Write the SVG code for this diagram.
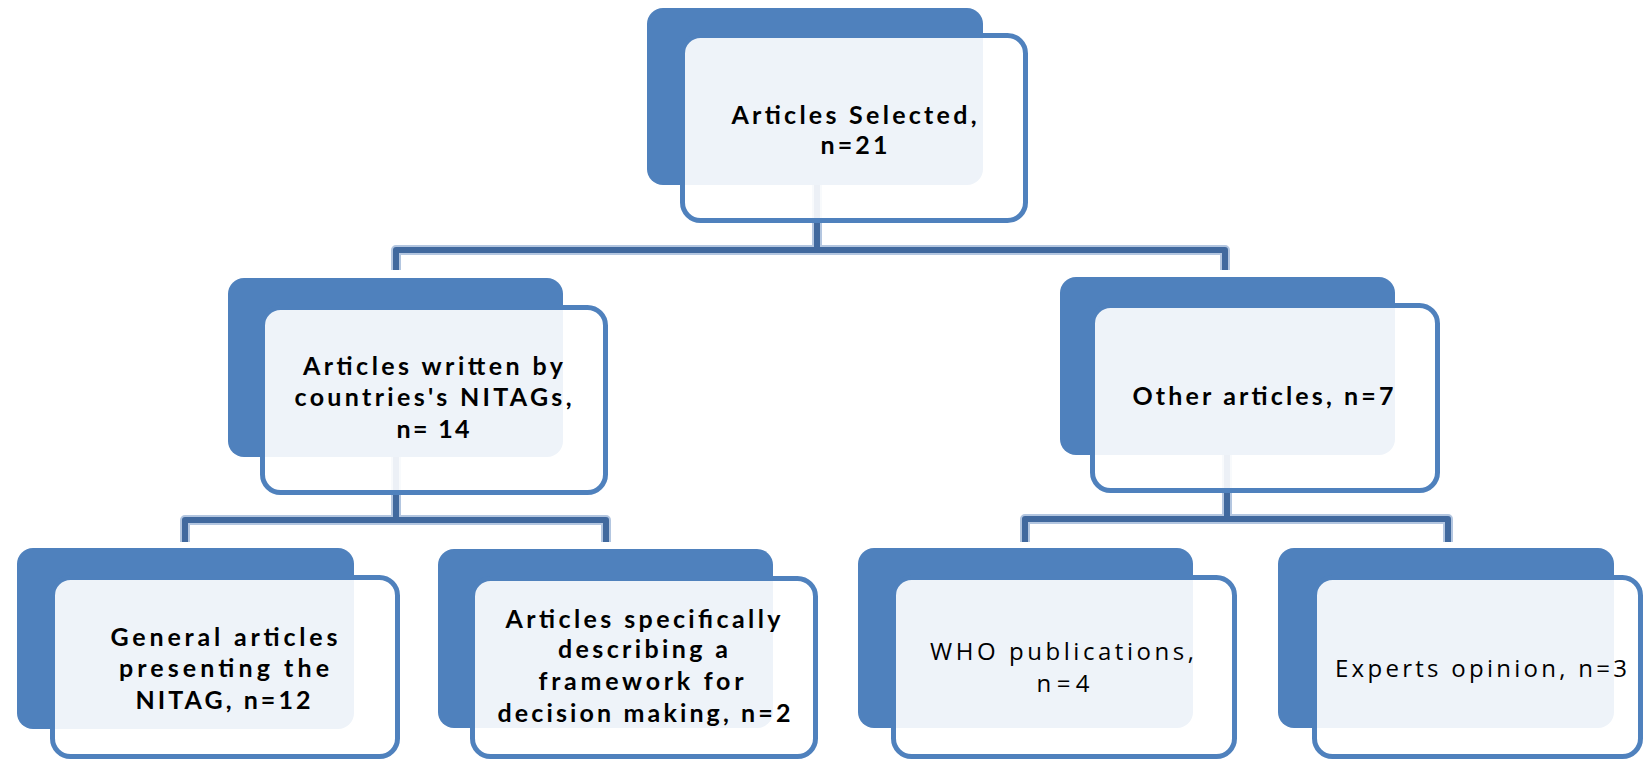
<svg xmlns="http://www.w3.org/2000/svg" width="1644" height="763" viewBox="0 0 1644 763">
<defs>
<style>
.back{fill:#4F81BD;}
.front{fill:#FFFFFF;fill-opacity:0.9;stroke:#4F81BD;stroke-width:5;}
.halo{fill:none;stroke:#B3C6E0;stroke-width:10;stroke-linejoin:round;}
.core{fill:none;stroke:#41699E;stroke-width:6;stroke-linejoin:round;}
.t{font-family:Lato,"Open Sans","Liberation Sans",sans-serif;font-size:25px;fill:#000000;text-anchor:middle;}
.b{font-weight:bold;}
.r{font-family:"Open Sans",Lato,"Liberation Sans",sans-serif;font-size:24px;}
</style>
</defs>
<rect width="1644" height="763" fill="#FFFFFF"/>
<g id="connectors">
<path class="halo" d="M817 185 V250 M396 270 V250 H1225 V270"/>
<path class="halo" d="M396 457 V520 M185 542 V520 H606 V542"/>
<path class="halo" d="M1227 455 V519 M1025 542 V519 H1448 V542"/>
<path class="core" d="M817 185 V250 M396 270 V250 H1225 V270"/>
<path class="core" d="M396 457 V520 M185 542 V520 H606 V542"/>
<path class="core" d="M1227 455 V519 M1025 542 V519 H1448 V542"/>
</g>
<g id="node-selected">
<rect class="back" x="647" y="8" width="336" height="177" rx="16"/>
<rect class="front" x="682.5" y="35.5" width="343" height="185" rx="18"/>
<text class="t b" x="854" y="124" textLength="245" lengthAdjust="spacing">Articles Selected,</text>
<text class="t b" x="854" y="154" textLength="67" lengthAdjust="spacing">n=21</text>
</g>
<g id="node-nitags">
<rect class="back" x="228" y="278" width="335" height="179" rx="16"/>
<rect class="front" x="262.5" y="307.5" width="343" height="185" rx="18"/>
<text class="t b" x="433" y="375" textLength="260" lengthAdjust="spacing">Articles written by</text>
<text class="t b" x="433" y="406" textLength="277" lengthAdjust="spacing">countries's NITAGs,</text>
<text class="t b" x="433" y="438" textLength="73" lengthAdjust="spacing">n= 14</text>
</g>
<g id="node-other">
<rect class="back" x="1060" y="277" width="335" height="178" rx="16"/>
<rect class="front" x="1092.5" y="305.5" width="345" height="185" rx="18"/>
<text class="t b" x="1263" y="405" textLength="261" lengthAdjust="spacing">Other articles, n=7</text>
</g>
<g id="node-general">
<rect class="back" x="17" y="548" width="337" height="181" rx="16"/>
<rect class="front" x="52.5" y="577.5" width="345" height="179" rx="18"/>
<text class="t b" x="224" y="646" textLength="227" lengthAdjust="spacing">General articles</text>
<text class="t b" x="224" y="677" textLength="210" lengthAdjust="spacing">presenting the</text>
<text class="t b" x="223" y="709" textLength="175" lengthAdjust="spacing">NITAG, n=12</text>
</g>
<g id="node-framework">
<rect class="back" x="438" y="549" width="335" height="179" rx="16"/>
<rect class="front" x="472.5" y="578.5" width="343" height="178" rx="18"/>
<text class="t b" x="643" y="628" textLength="275" lengthAdjust="spacing">Articles specifically</text>
<text class="t b" x="643" y="658" textLength="170" lengthAdjust="spacing">describing a</text>
<text class="t b" x="641" y="690" textLength="205" lengthAdjust="spacing">framework for</text>
<text class="t b" x="644" y="722" textLength="293" lengthAdjust="spacing">decision making, n=2</text>
</g>
<g id="node-who">
<rect class="back" x="858" y="548" width="335" height="180" rx="16"/>
<rect class="front" x="893.5" y="577.5" width="341" height="179" rx="18"/>
<text class="t r" x="1062" y="660" textLength="264" lengthAdjust="spacing">WHO publications,</text>
<text class="t r" x="1063" y="692" textLength="53" lengthAdjust="spacing">n=4</text>
</g>
<g id="node-experts">
<rect class="back" x="1278" y="548" width="336" height="180" rx="16"/>
<rect class="front" x="1314.5" y="577.5" width="326" height="179" rx="18"/>
<text class="t r" x="1481" y="677" textLength="292" lengthAdjust="spacing">Experts opinion, n=3</text>
</g>
</svg>
